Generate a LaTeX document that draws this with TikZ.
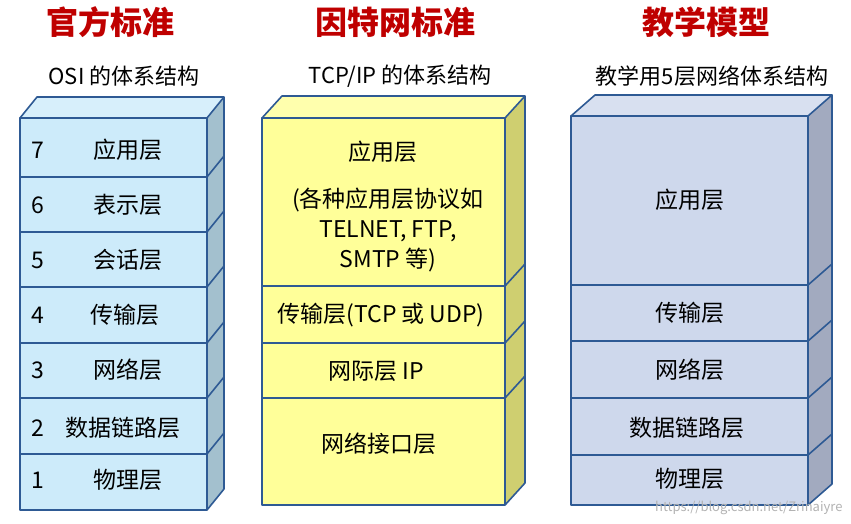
\documentclass[tikz,border=0pt]{standalone}
\usepackage{fontspec}
\setmainfont{Noto Sans CJK SC}
\begin{document}
\begin{tikzpicture}[x=1pt,y=-1pt,
  ttl/.style={text=red!75!black, font=\fontsize{32}{34}\selectfont\bfseries},
  sub/.style={font=\fontsize{22}{26}\selectfont},
  lay/.style={font=\fontsize{23}{30}\selectfont, align=center}]
\definecolor{bl}{HTML}{2E5A94}
\tikzset{edge/.style={draw=bl, line width=1.6pt, line join=round}}
\useasboundingbox (0,0) rectangle (851,524);
\newcommand{\mybox}[9]{%
  \fill[#7] (#1,#3) rectangle (#2,#4);
  \fill[#7!80!white] (#1,#3) -- (#1+#5,#3-#6) -- (#2+#5,#3-#6) -- (#2,#3) -- cycle;
  \fill[#8] (#2,#3) -- (#2+#5,#3-#6) -- (#2+#5,#4-#6) -- (#2,#4) -- cycle;
  \foreach \s in {#9} {\draw[edge] (#1,\s) -- (#2,\s) -- (#2+#5,\s-#6);}
  \draw[edge] (#1,#3) rectangle (#2,#4);
  \draw[edge] (#1,#3) -- (#1+#5,#3-#6) -- (#2+#5,#3-#6) -- (#2,#3);
  \draw[edge] (#2+#5,#3-#6) -- (#2+#5,#4-#6) -- (#2,#4);
}
\definecolor{c1}{HTML}{CDEBFA}\definecolor{s1}{HTML}{A3C0CE}
\definecolor{c2}{HTML}{FFFF99}\definecolor{s2}{HTML}{CFCF70}
\definecolor{c3}{HTML}{CED8EC}\definecolor{s3}{HTML}{A2AABF}
\mybox{20}{207}{118}{510}{17}{21}{c1}{s1}{177,232,287,343,398,454}
\mybox{262}{505}{118}{505}{20}{22}{c2}{s2}{286,343,398}
\mybox{571}{808}{116}{505}{24}{21}{c3}{s3}{285,341,398,455}
\node[ttl] (t1) at (110,22) {官方标准};
\node[ttl] (t2) at (395,22) {因特网标准};
\node[ttl] (t3) at (706,22) {教学模型};
\node[sub] (s1) at (124,76) {OSI 的体系结构};
\node[sub] (s2) at (400,76) {TCP/IP 的体系结构};
\node[sub] (s3) at (712,76) {教学用5层网络体系结构};
\foreach \n/\t/\x/\y in {7/应用层/128/150,6/表示层/128/205,5/会话层/128/260,4/传输层/125/315,3/网络层/128/370,2/数据链路层/123/428,1/物理层/128/480}{
  \node[lay] (n\n) at (38,\y) {\n};
  \node[lay] (l\n) at (\x,\y) {\t};
}
\node[lay] (a1) at (383,152) {应用层};
\node[lay] (a2) at (388,230) {(各种应用层协议如\\TELNET, FTP,\\SMTP 等)};
\node[lay] (a3) at (381,315) {传输层(TCP 或 UDP)};
\node[lay] (a4) at (376,371) {网际层 IP};
\node[lay] (a5) at (379,444) {网络接口层};
\node[lay] (b1) at (690,200) {应用层};
\node[lay] (b2) at (690,313) {传输层};
\node[lay] (b3) at (690,370) {网络层};
\node[lay] (b4) at (687,428) {数据链路层};
\node[lay] (b5) at (690,479) {物理层};
\node[text=gray!60, font=\fontsize{13}{14}\selectfont, anchor=east] (wm) at (846,508) {https://blog.csdn.net/Zrinaiyre};
\end{tikzpicture}
\end{document}
